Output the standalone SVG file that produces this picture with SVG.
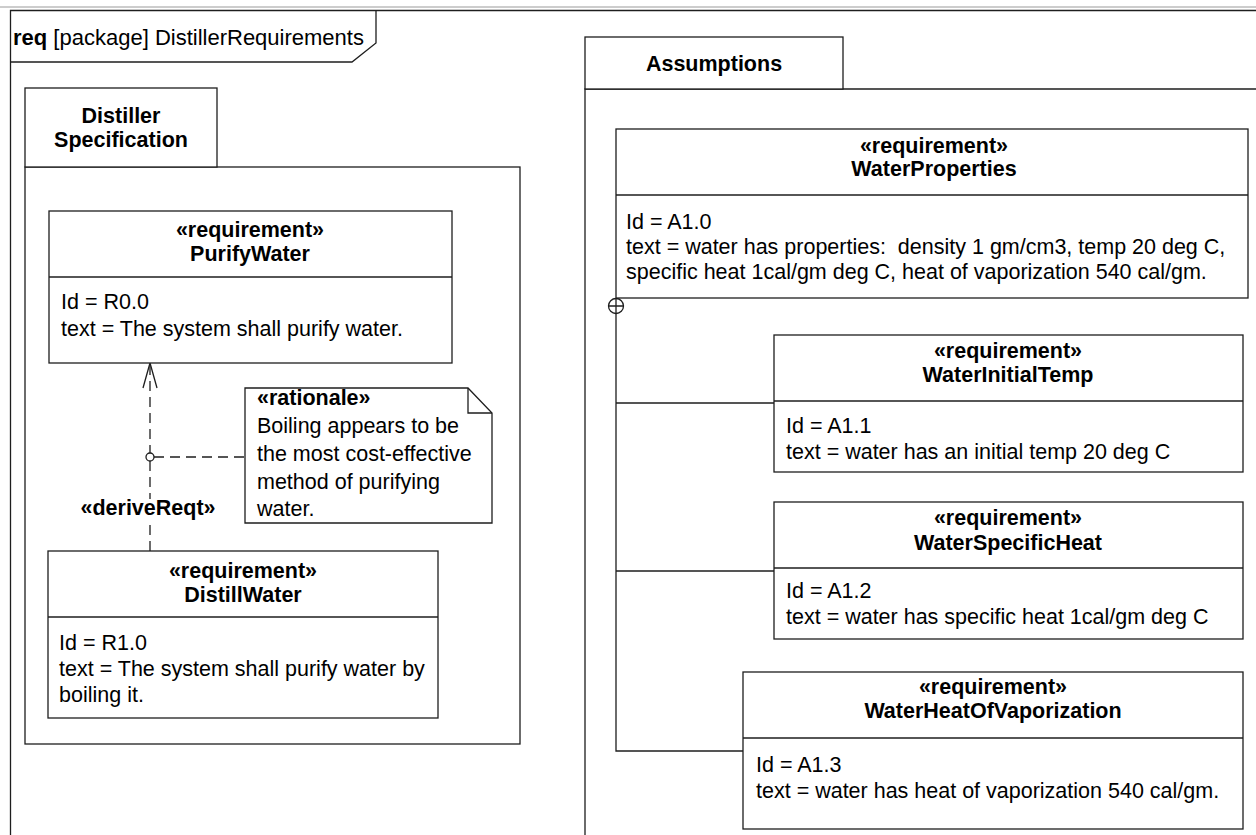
<svg xmlns="http://www.w3.org/2000/svg" width="1256" height="835" viewBox="0 0 1256 835">
<style>
text{font-family:"Liberation Sans",Arial,Helvetica,sans-serif;font-size:21.5px;fill:#000}
.b{font-weight:bold}
.c{text-anchor:middle}
.box{fill:#fff;stroke:#1e1e1e;stroke-width:1.3}
.ln{fill:none;stroke:#1e1e1e;stroke-width:1.3}
.dash{fill:none;stroke:#1e1e1e;stroke-width:1.3;stroke-dasharray:10,6}
.lbl{stroke:#fff;stroke-width:8;paint-order:stroke;stroke-linejoin:round}
</style>
<rect width="1256" height="835" fill="#fff"/>
<line x1="0" y1="7" x2="1256" y2="7" stroke="#9a9a9a" stroke-width="1"/>
<g id="frame">
<path class="ln" d="M10.5,835 V10.5 H1256"/>
<path class="ln" d="M10.5,62 H352 L376,43 V10.5"/>
<text x="13" y="45" style="font-size:22px"><tspan class="b">req</tspan> [package] DistillerRequirements</text>
</g>
<g id="pkg-distiller">
<rect class="box" x="25" y="167" width="495" height="577"/>
<rect class="box" x="25" y="88" width="192" height="79"/>
<text class="b c" x="121" y="123">Distiller</text>
<text class="b c" x="121" y="147">Specification</text>
</g>
<g id="pkg-assumptions">
<path class="ln" d="M585,835 V89 H1256"/>
<rect class="box" x="585" y="37" width="258" height="52"/>
<text class="b c" x="714" y="71">Assumptions</text>
</g>
<g id="connectors">
<path class="dash" d="M150,551 V366"/>
<path class="ln" d="M143,388 L150,363 L157,388"/>
<circle cx="150" cy="457" r="4" fill="#fff" stroke="#1e1e1e" stroke-width="1.3"/>
<path class="dash" d="M154,457 H245"/>
<text class="b c lbl" x="148" y="515">«deriveReqt»</text>
<path class="ln" d="M616,298 V751 H743 M616,403 H774 M616,571 H774"/>
<circle cx="616" cy="306" r="7.5" fill="#fff" stroke="#1e1e1e" stroke-width="1.3"/>
<path class="ln" d="M608.5,306 H623.5 M616,298.5 V313.5"/>
</g>
<g id="PurifyWater">
<rect class="box" x="49" y="211" width="403" height="152"/>
<line class="ln" x1="49" y1="277" x2="452" y2="277"/>
<text class="b c" x="250" y="237">«requirement»</text>
<text class="b c" x="250" y="261">PurifyWater</text>
<text x="61" y="309">Id = R0.0</text>
<text x="61" y="336">text = The system shall purify water.</text>
</g>
<g id="rationale">
<path class="box" d="M245,388 H468 L492,413 V523 H245 Z"/>
<path class="ln" d="M468,388 V413 H492"/>
<text x="257" y="405" class="b">«rationale»</text>
<text x="257" y="433">Boiling appears to be</text>
<text x="257" y="461">the most cost-effective</text>
<text x="257" y="489">method of purifying</text>
<text x="257" y="516">water.</text>
</g>
<g id="DistillWater">
<rect class="box" x="48" y="551" width="390" height="167"/>
<line class="ln" x1="48" y1="617" x2="438" y2="617"/>
<text class="b c" x="243" y="578">«requirement»</text>
<text class="b c" x="243" y="602">DistillWater</text>
<text x="59" y="650">Id = R1.0</text>
<text x="59" y="676">text = The system shall purify water by</text>
<text x="59" y="702">boiling it.</text>
</g>
<g id="WaterProperties">
<rect class="box" x="616" y="129" width="632" height="169"/>
<line class="ln" x1="616" y1="195" x2="1248" y2="195"/>
<text class="b c" x="934" y="153">«requirement»</text>
<text class="b c" x="934" y="176">WaterProperties</text>
<text x="626" y="229">Id = A1.0</text>
<text x="626" y="254">text = water has properties: &#160;density 1 gm/cm3, temp 20 deg C,</text>
<text x="626" y="279">specific heat 1cal/gm deg C, heat of vaporization 540 cal/gm.</text>
</g>
<g id="WaterInitialTemp">
<rect class="box" x="774" y="335" width="469" height="137"/>
<line class="ln" x1="774" y1="401" x2="1243" y2="401"/>
<text class="b c" x="1008" y="358">«requirement»</text>
<text class="b c" x="1008" y="382">WaterInitialTemp</text>
<text x="786" y="433">Id = A1.1</text>
<text x="786" y="459">text = water has an initial temp 20 deg C</text>
</g>
<g id="WaterSpecificHeat">
<rect class="box" x="774" y="502" width="469" height="137"/>
<line class="ln" x1="774" y1="568" x2="1243" y2="568"/>
<text class="b c" x="1008" y="525">«requirement»</text>
<text class="b c" x="1008" y="550">WaterSpecificHeat</text>
<text x="786" y="598">Id = A1.2</text>
<text x="786" y="624">text = water has specific heat 1cal/gm deg C</text>
</g>
<g id="WaterHeatOfVaporization">
<rect class="box" x="743" y="672" width="500" height="157"/>
<line class="ln" x1="743" y1="738" x2="1243" y2="738"/>
<text class="b c" x="993" y="694">«requirement»</text>
<text class="b c" x="993" y="718">WaterHeatOfVaporization</text>
<text x="756" y="772">Id = A1.3</text>
<text x="756" y="798">text = water has heat of vaporization 540 cal/gm.</text>
</g>
</svg>
